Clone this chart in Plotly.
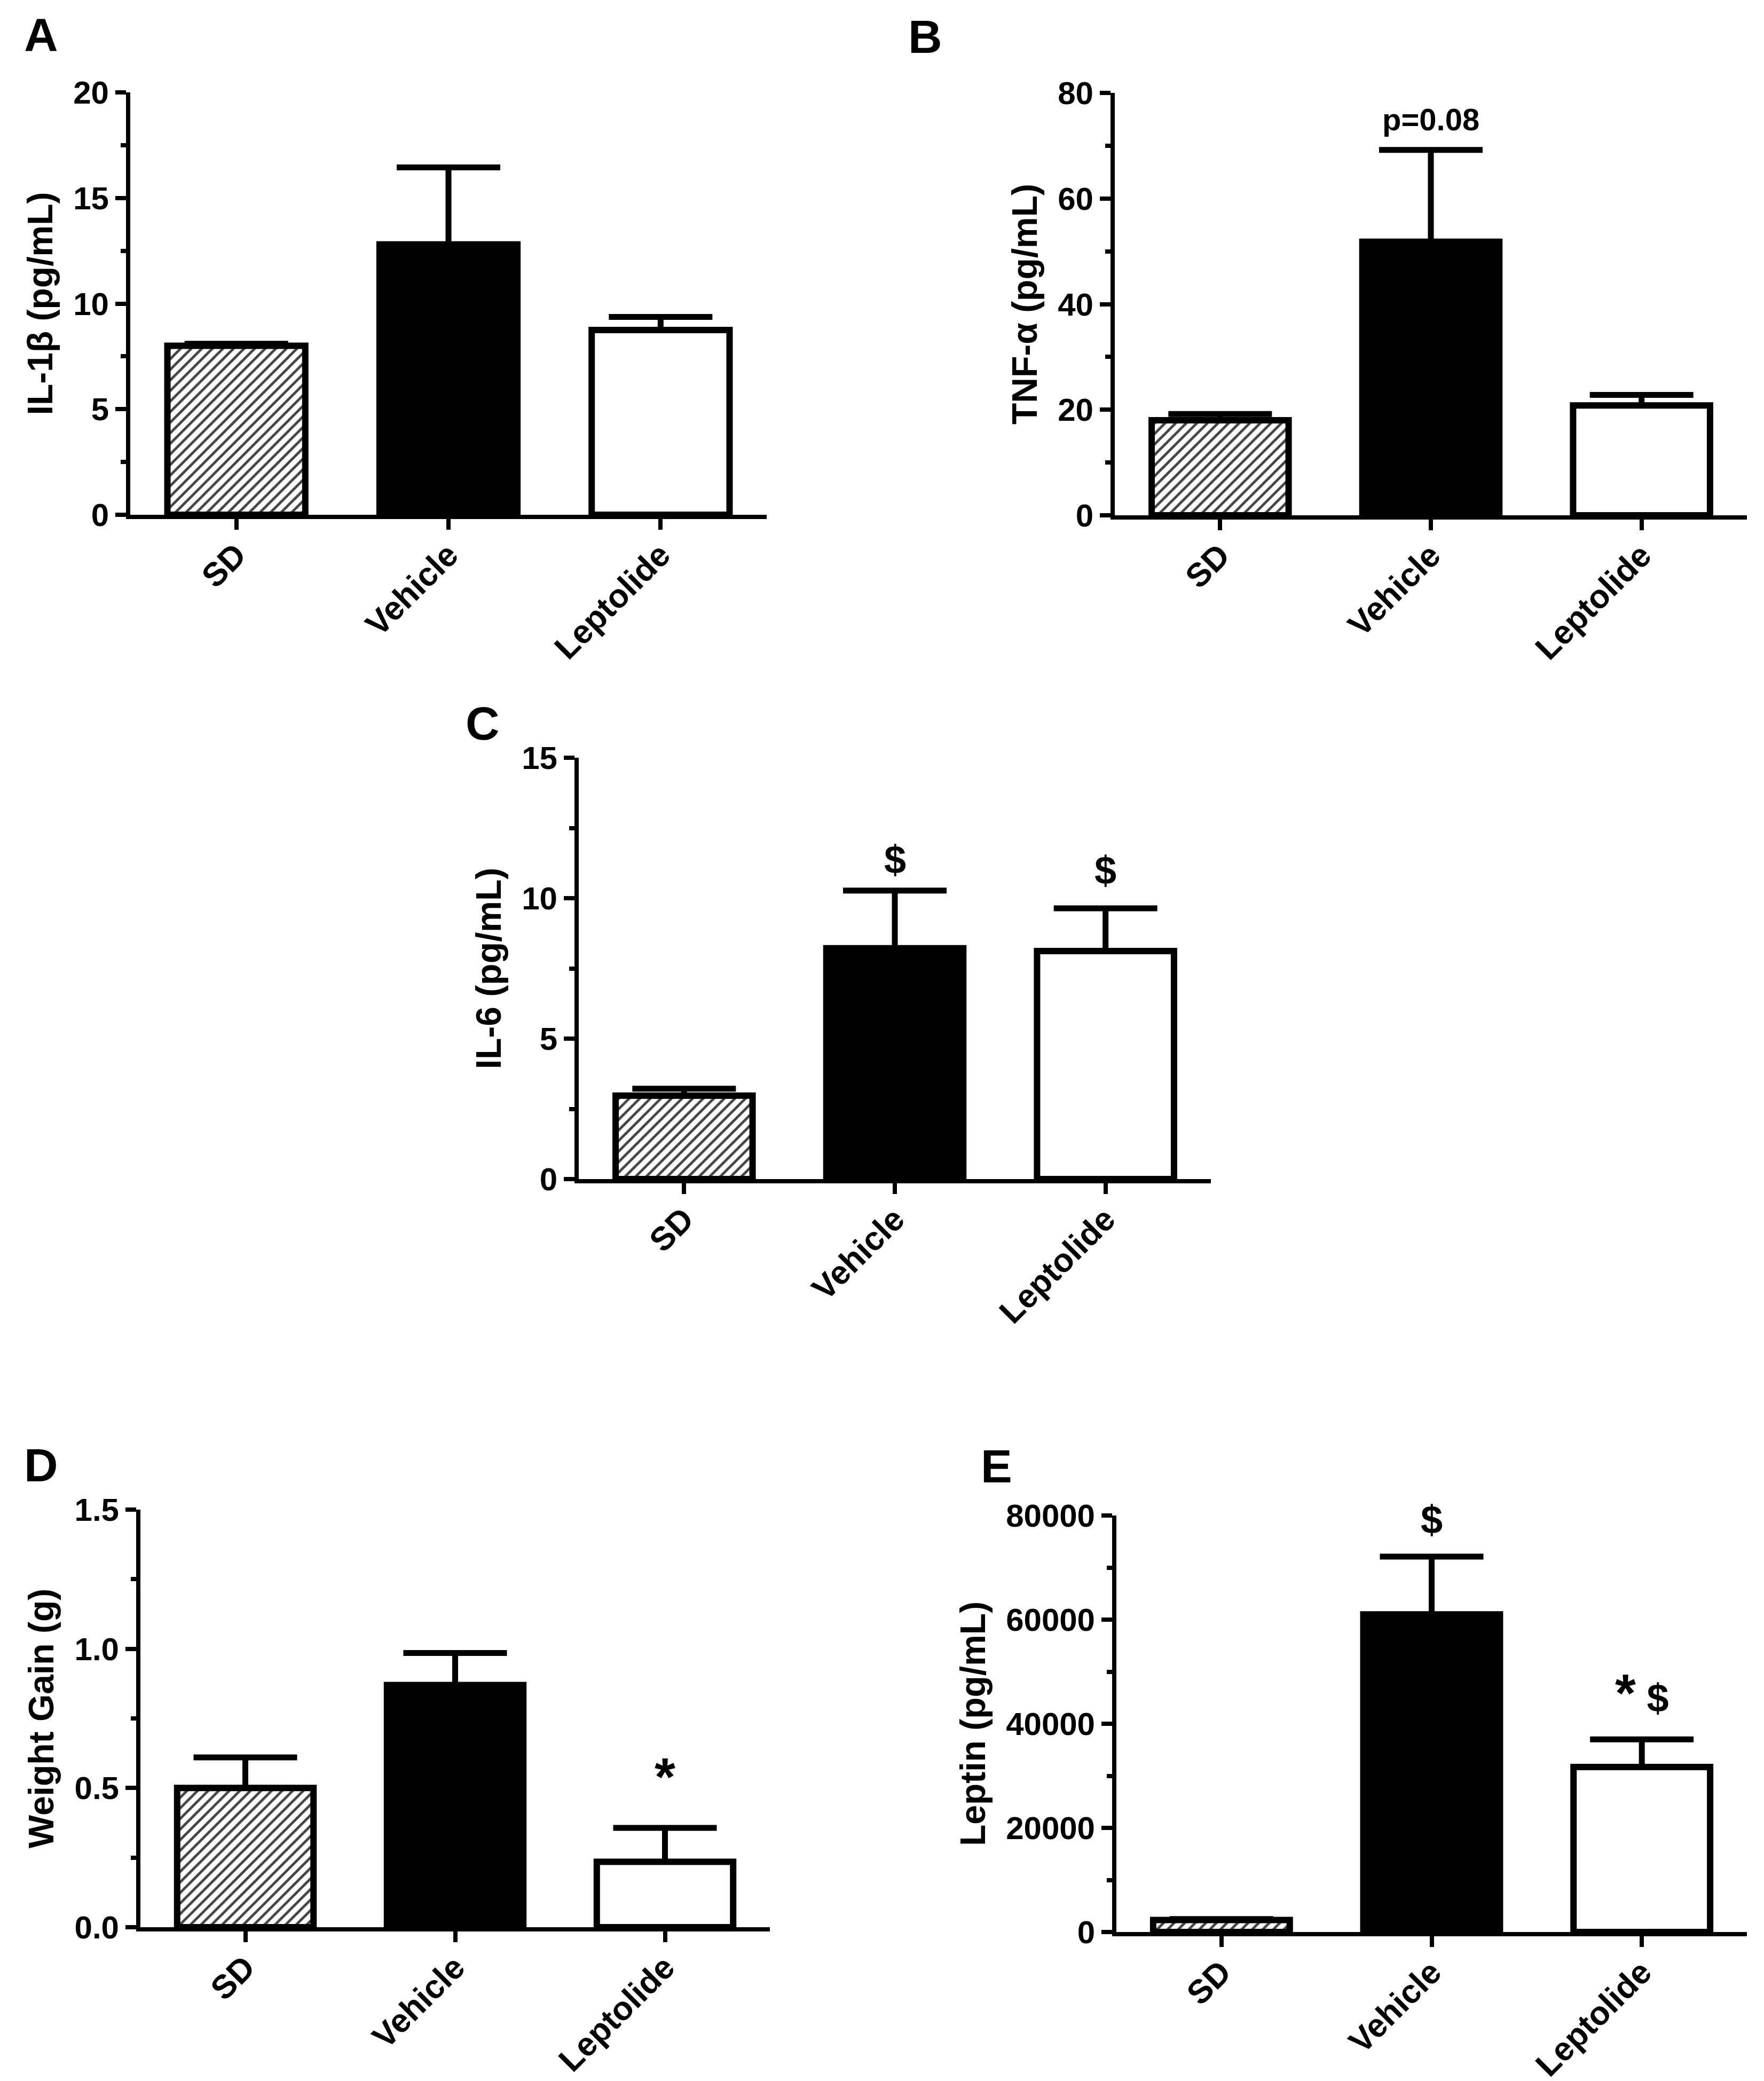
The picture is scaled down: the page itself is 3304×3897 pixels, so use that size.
import plotly.graph_objects as go

categories = ["SD", "Vehicle", "Leptolide"]

il1b_mean = [8.0, 12.8, 8.75]
il1b_sem = [0.1, 3.65, 0.62]

tnfa_mean = [18.0, 51.8, 20.8]
tnfa_sem = [1.2, 17.4, 2.0]

il6_mean = [2.97, 8.22, 8.12]
il6_sem = [0.25, 2.05, 1.52]

weight_mean = [0.50, 0.87, 0.235]
weight_sem = [0.11, 0.115, 0.122]

leptin_mean = [2300, 61000, 31700]
leptin_sem = [200, 11100, 5300]

W, H = 3304, 3897
SANS = "Liberation Sans, Arial, sans-serif"

panels = [
    # key, means, sems, title, y max, dtick, minor, tickformat, x px, y px
    ("A", il1b_mean, il1b_sem, "IL-1β (pg/mL)", 20, 5, 2.5, "d", (236, 1428), (165, 956)),
    ("B", tnfa_mean, tnfa_sem, "TNF-α (pg/mL)", 80, 20, 10, "d", (2080, 3264), (166, 957)),
    ("C", il6_mean, il6_sem, "IL-6 (pg/mL)", 15, 5, 2.5, "d", (1076, 2260), (1411, 2200)),
    ("D", weight_mean, weight_sem, "Weight Gain (g)", 1.5, 0.5, 0.25, ".1f", (255, 1434), (2819, 3601)),
    ("E", leptin_mean, leptin_sem, "Leptin (pg/mL)", 80000, 20000, 10000, "d", (2083, 3264), (2830, 3610)),
]

fig = go.Figure()
layout = {}
for i, (key, mean, sem, title, ymax, dtick, minor, fmt, xpx, ypx) in enumerate(panels):
    n = "" if i == 0 else str(i + 1)
    xa, ya = "x" + n, "y" + n
    fig.add_trace(go.Bar(
        x=categories, y=mean, xaxis=xa, yaxis=ya, width=0.65,
        marker=dict(
            color=["white", "black", "white"],
            line=dict(color="black", width=12),
            pattern=dict(shape=["/", "", ""], fgcolor="black", bgcolor="white",
                         fgopacity=1, size=14, solidity=0.34),
        ),
        error_y=dict(type="data", array=sem, arrayminus=[0, 0, 0], symmetric=False,
                     color="black", thickness=11, width=97),
        showlegend=False,
    ))
    layout["xaxis" + n] = dict(
        domain=[xpx[0] / W, xpx[1] / W], anchor=ya, range=[-0.5, 2.5], automargin=False,
        showline=True, linecolor="black", linewidth=8, showgrid=False, zeroline=False,
        ticks="outside", ticklen=20, tickwidth=8, tickcolor="black",
        tickangle=-45, ticklabelstandoff=-14,
        tickfont=dict(family=SANS, size=62, color="black", weight="bold"),
    )
    layout["yaxis" + n] = dict(
        domain=[1 - ypx[1] / H, 1 - ypx[0] / H], anchor=xa, range=[0, ymax], automargin=False,
        showline=True, linecolor="black", linewidth=8, showgrid=False, zeroline=False,
        ticks="outside", ticklen=20, tickwidth=8, tickcolor="black",
        dtick=dtick, tick0=0, tickformat=fmt,
        minor=dict(dtick=minor, ticks="outside", ticklen=10, tickwidth=8, tickcolor="black"),
        tickfont=dict(family=SANS, size=60, color="black", weight="bold"),
        ticklabelstandoff=0,
        title=dict(text=title, standoff=20,
                   font=dict(family=SANS, size=66, color="black", weight="bold")),
    )

letters = [("A", 69, 56), ("B", 1725, 60), ("C", 896, 1346), ("D", 69, 2735), ("E", 1858, 2737)]
annotations = []
for t, px, py in letters:
    annotations.append(dict(text=t, x=px / W, y=1 - py / H, xref="paper", yref="paper",
                            xanchor="center", yanchor="middle", showarrow=False,
                            font=dict(family=SANS, size=88, color="black", weight="bold")))

marks = [
    ("x2", "y2", "Vehicle", 75, "p=0.08", 58),
    ("x3", "y3", "Vehicle", 11.38, "$", 74),
    ("x3", "y3", "Leptolide", 10.99, "$", 74),
    ("x4", "y4", "Leptolide", 0.54, "*", 100),
    ("x5", "y5", "Vehicle", 79200, "$", 74),
    ("x5", "y5", "Leptolide", 46000, "<span style='font-size:100px'>*</span> $", 74),
]
for xr, yr, xv, yv, txt, sz in marks:
    annotations.append(dict(text=txt, x=xv, y=yv, xref=xr, yref=yr, showarrow=False,
                            xanchor="center", yanchor="middle",
                            font=dict(family=SANS, size=sz, color="black", weight="bold")))

fig.update_layout(
    width=W, height=H, margin=dict(l=0, r=0, t=0, b=0),
    paper_bgcolor="white", plot_bgcolor="white",
    annotations=annotations, **layout,
)

fig.write_html("out.html")
